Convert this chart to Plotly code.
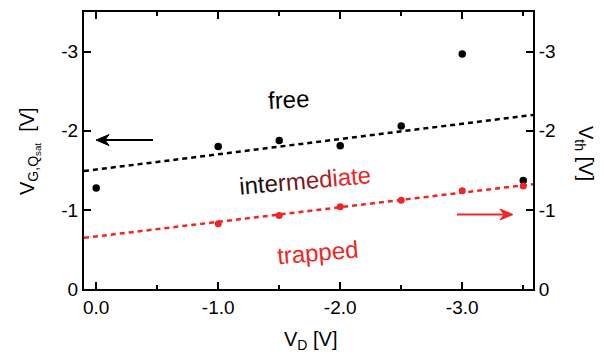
import plotly.graph_objects as go

# data
vd = [0.0, -1.0, -1.5, -2.0, -2.5, -3.0, -3.5]
vg_free = [-1.275, -1.80, -1.875, -1.81, -2.06, -2.97, -1.37]
vd_th = [-1.0, -1.5, -2.0, -2.5, -3.0, -3.5]
vth = [-0.825, -0.93, -1.04, -1.12, -1.24, -1.30]
fit_x = [0.1, -3.58]
fit_free = [-1.49, -2.20]
fit_trapped = [-0.646, -1.325]

x_ticks = [0.0, -1.0, -2.0, -3.0]
x_ticklabels = ["0.0", "-1.0", "-2.0", "-3.0"]
x_minor = [-0.5, -1.5, -2.5, -3.5]
y_ticks = [0, -1, -2, -3]
y_ticklabels = ["0", "-1", "-2", "-3"]

RED = "#ee2626"
FONT = "Liberation Sans, Arial, sans-serif"

fig = go.Figure()
fig.add_trace(go.Scatter(x=fit_x, y=fit_free, mode="lines",
                         line=dict(color="black", width=2.5, dash="5px,4px")))
fig.add_trace(go.Scatter(x=fit_x, y=fit_trapped, mode="lines", yaxis="y2",
                         line=dict(color=RED, width=2.5, dash="5px,4px")))
fig.add_trace(go.Scatter(x=vd, y=vg_free, mode="markers",
                         marker=dict(color="black", size=7.5)))
fig.add_trace(go.Scatter(x=vd_th, y=vth, mode="markers", yaxis="y2",
                         marker=dict(color=RED, size=7)))


def grad_text(s, c0, c1):
    out = []
    for i, ch in enumerate(s):
        t = min(1.0, max(0.0, (i - 2) / 7))
        r = int(c0[0] + (c1[0] - c0[0]) * t)
        g = int(c0[1] + (c1[1] - c0[1]) * t)
        b = int(c0[2] + (c1[2] - c0[2]) * t)
        out.append(f'<span style="color:rgb({r},{g},{b})">{ch}</span>')
    return "".join(out)


W, H = 604, 357
L, R, T, B = 84, 533, 10, 289


def px(xp):
    return (xp - L) / (R - L)


def py(yp):
    return (B - yp) / (B - T)


labels = [
    (288, 98, "free", "black", -3),
    (305, 180, grad_text("intermediate", (20, 14, 14), (238, 38, 38)), "black", -5),
    (317, 252, "trapped", RED, -5),
]

anns = []
for xp, yp, txt, col, ang in labels:
    anns.append(dict(x=px(xp), y=py(yp), xref="paper", yref="paper",
                     text=txt, showarrow=False, textangle=ang,
                     font=dict(size=24, family=FONT, color=col),
                     xanchor="center", yanchor="middle"))

# axis titles
anns.append(dict(x=px(30), y=py(150), xref="paper", yref="paper", showarrow=False,
                 textangle=-90, xanchor="center", yanchor="middle",
                 text="V<sub>G,Q<sub>sat</sub></sub>  [V]",
                 font=dict(size=20, family=FONT, color="black")))
anns.append(dict(x=px(584), y=py(152), xref="paper", yref="paper", showarrow=False,
                 textangle=90, xanchor="center", yanchor="middle",
                 text="V<sub>th</sub> [V]",
                 font=dict(size=20, family=FONT, color="black")))
anns.append(dict(x=px(310), y=py(341), xref="paper", yref="paper", showarrow=False,
                 xanchor="center", yanchor="middle",
                 text="V<sub>D</sub> [V]",
                 font=dict(size=20, family=FONT, color="black")))

# arrows as shapes (shaft + notched head)
shapes = []


def arrow(x_tip, x_tail, yp, col):
    d = 1 if x_tail > x_tip else -1
    hl, hw, notch = 13, 5.5, 4
    shapes.append(dict(type="line", xref="paper", yref="paper",
                       x0=px(x_tip + d * 8), x1=px(x_tail), y0=py(yp), y1=py(yp),
                       line=dict(color=col, width=2)))
    pts = [(x_tip, yp), (x_tip + d * hl, yp - hw), (x_tip + d * (hl - notch), yp),
           (x_tip + d * hl, yp + hw)]
    path = "M " + " L ".join(f"{px(a):.5f},{py(b):.5f}" for a, b in pts) + " Z"
    shapes.append(dict(type="path", xref="paper", yref="paper", path=path,
                       fillcolor=col, line=dict(color=col, width=1)))


arrow(96, 153, 139, "black")
arrow(513, 457, 214, RED)

axis_common = dict(showgrid=False, zeroline=False, showline=True, linecolor="black",
                   linewidth=2, ticks="inside", tickcolor="black", tickwidth=2,
                   ticklen=7, tickfont=dict(size=19, family=FONT, color="black"))

fig.update_layout(
    width=W, height=H,
    margin=dict(l=L, r=W - R, t=T, b=H - B),
    paper_bgcolor="white", plot_bgcolor="white",
    showlegend=False,
    font=dict(family=FONT),
    xaxis=dict(range=[0.1, -3.58], tickvals=x_ticks, ticktext=x_ticklabels,
               mirror="ticks",
               minor=dict(tickvals=x_minor, ticks="inside", ticklen=4,
                          tickwidth=2, tickcolor="black"),
               **axis_common),
    yaxis=dict(range=[0, -3.5], tickvals=y_ticks, ticktext=y_ticklabels, **axis_common),
    yaxis2=dict(range=[0, -3.5], tickvals=y_ticks, ticktext=y_ticklabels,
                overlaying="y", side="right", **axis_common),
    annotations=anns,
    shapes=shapes,
)

fig.write_html("out.html", config={"displayModeBar": False},
               post_script="document.body.style.margin='0';")
